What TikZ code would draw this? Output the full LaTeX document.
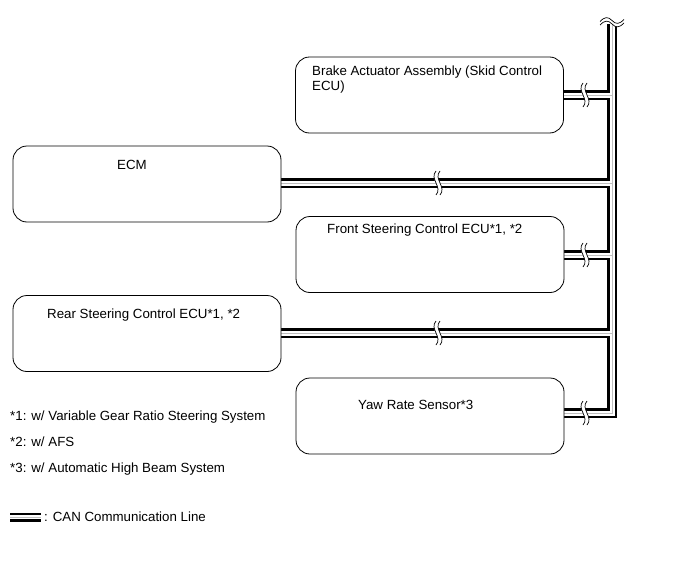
\documentclass[tikz,border=0pt]{standalone}
\usepackage{fontspec}
\setmainfont{Liberation Sans}
\usetikzlibrary{backgrounds}
\begin{document}
\begin{tikzpicture}[x=1pt,y=-1pt,
  box/.style={draw, line width=0.8pt, rounded corners=14pt, minimum width=268pt, minimum height=76pt, inner sep=0pt, fill=white},
  lbl/.style={anchor=base west, inner sep=0pt, font=\fontsize{13.3}{15}\selectfont},
  canouter/.style={line width=10pt, black},
  caninner/.style={line width=5pt, white},
  cancenter/.style={line width=0.6pt, black!25},
  brk/.pic={
    \draw[white, line width=4pt] (0,-10) .. controls (-7,-4) and (7,4) .. (0,10);
    \draw[line width=0.7pt] (-2,-12) .. controls (-9,-4) and (5,4) .. (-2,12);
    \draw[line width=0.7pt] (2,-12) .. controls (-5,-4) and (9,4) .. (2,12);
  }
]
\useasboundingbox (0,0) rectangle (691,562);

\node[box] (brake) at (429.5,95) {};
\node[box] (ecm) at (147,184) {};
\node[box] (front) at (430,254.5) {};
\node[box] (rear) at (147,333.5) {};
\node[box] (yaw) at (430,416) {};

\node[lbl] (tbrake1) at (312,75) {Brake Actuator Assembly (Skid Control};
\node[lbl] (tbrake2) at (312,90) {ECU)};
\node[lbl] (tecm) at (117,169) {ECM};
\node[lbl] (tfront) at (327,233) {Front Steering Control ECU*1, *2};
\node[lbl] (trear) at (47,318) {Rear Steering Control ECU*1, *2};
\node[lbl] (tyaw) at (358,409) {Yaw Rate Sensor*3};

\node[lbl] (n1) at (10,420) {*1: w/ Variable Gear Ratio Steering System};
\node[lbl] (n2) at (10,446) {*2: w/ AFS};
\node[lbl] (n3) at (10,472) {*3: w/ Automatic High Beam System};
\node[lbl] (ncan) at (44,521) {: CAN Communication Line};

\coordinate (top) at (612,24);
\coordinate (j1) at (612,95);
\coordinate (j2) at (612,183);
\coordinate (j3) at (612,255);
\coordinate (j4) at (612,333);
\coordinate (j5) at (612,413);
\coordinate (lg1) at (10,517);
\coordinate (lg2) at (41,517);

\begin{pgfonlayer}{background}
\foreach \s in {canouter,caninner,cancenter}{
  \draw[\s] (top) -- (j5) -- (j5 -| yaw.east);
  \draw[\s] (brake.east |- j1) -- (j1);
  \draw[\s] (ecm.east |- j2) -- (j2);
  \draw[\s] (front.east |- j3) -- (j3);
  \draw[\s] (rear.east |- j4) -- (j4);
}
\draw[line width=9pt] (lg1) -- (lg2);
\draw[line width=4pt, white] (lg1) -- (lg2);
\draw[line width=0.6pt, black!25] (lg1) -- (lg2);

\pic at (585,95) {brk};
\pic at (438,183) {brk};
\pic at (585,255) {brk};
\pic at (438,333) {brk};
\pic at (585,413) {brk};

\fill[white] (600,21.5) .. controls (605,16.5) and (608,16.5) .. (612,20.5) .. controls (616,24.5) and (619,24.5) .. (624,19.5) -- (624,23) .. controls (619,28) and (616,28) .. (612,24) .. controls (608,20) and (605,20) .. (600,25) -- cycle;
\draw[line width=0.7pt] (600,21.5) .. controls (605,16.5) and (608,16.5) .. (612,20.5) .. controls (616,24.5) and (619,24.5) .. (624,19.5);
\draw[line width=0.7pt] (600,25) .. controls (605,20) and (608,20) .. (612,24) .. controls (616,28) and (619,28) .. (624,23);
\end{pgfonlayer}
\end{tikzpicture}
\end{document}
